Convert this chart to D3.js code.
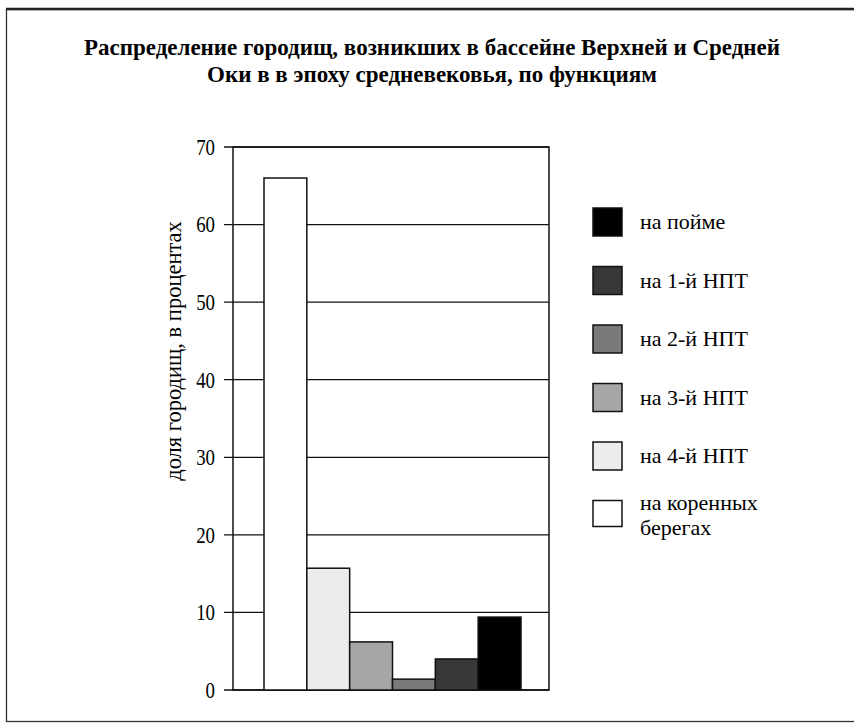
<!DOCTYPE html>
<html>
<head>
<meta charset="utf-8">
<script src="https://cdn.jsdelivr.net/npm/d3@7"></script>
<style>
  html, body { margin: 0; padding: 0; background: #fff; }
  text { font-family: "Liberation Serif", "DejaVu Serif", serif; fill: #000; }
</style>
</head>
<body>
<script>
'use strict';

// categories in legend order
const categories = ["на пойме", "на 1-й НПТ", "на 2-й НПТ", "на 3-й НПТ", "на 4-й НПТ", "на коренных берегах"];
// share of hillforts, percent (same order as categories)
const values = [9.4, 4.0, 1.4, 6.2, 15.7, 66];
// bars are drawn in reverse legend order
const barOrder = categories.slice().reverse();
const fills = ["#000000", "#383838", "#7a7a7a", "#a6a6a6", "#ececec", "#ffffff"];
const yTicks = [0, 10, 20, 30, 40, 50, 60, 70];
const titleLines = ["Распределение городищ, возникших в бассейне Верхней и Средней",
                    "Оки в в эпоху средневековья, по функциям"];
const yLabel = "доля городищ, в процентах";

(function() {
  const W = 854, H = 723;
  const svg = d3.select('body').append('svg')
    .attr('width', W)
    .attr('height', H);

  // outer frame
  svg.append('rect')
    .attr('x', 6.5).attr('y', 9.5)
    .attr('width', 852).attr('height', 712)
    .attr('fill', 'none')
    .attr('stroke', '#333')
    .attr('stroke-width', 1.3);
  svg.append('line')
    .attr('x1', 6).attr('x2', W).attr('y1', 9).attr('y2', 9)
    .attr('stroke', '#222').attr('stroke-width', 2.5);

  // title
  svg.append('text')
    .attr('x', 432).attr('y', 55)
    .attr('text-anchor', 'middle')
    .style('font-size', '23px')
    .style('font-weight', 'bold')
    .selectAll('tspan')
    .data(titleLines)
    .enter()
    .append('tspan')
      .attr('x', 432)
      .attr('dy', (d, i) => i === 0 ? 0 : 27)
      .text(d => d);

  const plot = {left: 233, right: 549, top: 147, bottom: 690};

  const y = d3.scaleLinear()
    .domain([0, 70])
    .range([plot.bottom, plot.top]);

  const x = d3.scaleBand()
    .domain(barOrder)
    .range([plot.left + 31, plot.right - 28])
    .padding(0);

  // gridlines + ticks
  svg.append('g')
    .selectAll('line')
    .data(yTicks)
    .enter()
    .append('line')
      .attr('x1', plot.left - 9)
      .attr('x2', plot.right)
      .attr('y1', d => y(d))
      .attr('y2', d => y(d))
      .attr('stroke', '#111')
      .attr('stroke-width', 1.3);

  // y axis labels (narrow, tall digits as in the scan)
  const yAxis = d3.axisLeft(y).tickValues(yTicks).tickSize(0).tickPadding(0);
  const gy = svg.append('g')
    .attr('transform', 'translate(' + plot.left + ',0)')
    .call(yAxis);
  gy.select('.domain').remove();
  gy.selectAll('text')
    .style('font-family', '"Liberation Serif", serif')
    .style('font-size', '23px')
    .attr('fill', '#000')
    .attr('x', -18 / 0.82)
    .attr('transform', 'scale(0.82,1)');

  // plot frame
  svg.append('rect')
    .attr('x', plot.left).attr('y', plot.top)
    .attr('width', plot.right - plot.left)
    .attr('height', plot.bottom - plot.top)
    .attr('fill', 'none')
    .attr('stroke', '#111')
    .attr('stroke-width', 1.5);

  // bars
  const valueOf = (c) => values[categories.indexOf(c)];
  const fillOf = (c) => fills[categories.indexOf(c)];
  svg.append('g')
    .selectAll('rect')
    .data(barOrder)
    .enter()
    .append('rect')
      .attr('x', d => x(d))
      .attr('y', d => y(valueOf(d)))
      .attr('width', x.bandwidth())
      .attr('height', d => y(0) - y(valueOf(d)))
      .attr('fill', d => fillOf(d))
      .attr('stroke', '#111')
      .attr('stroke-width', 1.5);

  // y axis title
  svg.append('text')
    .attr('transform', 'translate(181, 351)rotate(-90)')
    .attr('text-anchor', 'middle')
    .style('font-size', '22.5px')
    .text(yLabel);

  // legend
  const legend = svg.append('g').attr('transform', 'translate(593, 208)');
  const items = legend.selectAll('g')
    .data(categories)
    .enter()
    .append('g')
      .attr('transform', (d, i) => 'translate(0,' + (i * 58.5) + ')');
  items.append('rect')
    .attr('width', 29)
    .attr('height', (d, i) => i === categories.length - 1 ? 26 : 28)
    .attr('fill', (d, i) => fills[i])
    .attr('stroke', '#111')
    .attr('stroke-width', 1.5);
  items.append('text')
    .attr('x', 47)
    .attr('y', 21)
    .style('font-size', '22px')
    .selectAll('tspan')
    .data(d => d === "на коренных берегах" ? ["на коренных", "берегах"] : [d])
    .enter()
    .append('tspan')
      .attr('x', 47)
      .attr('dy', (d, i) => i === 0 ? (d === "на коренных" ? -12 : 0) : 25)
      .text(d => d);
})();
</script>
</body>
</html>
